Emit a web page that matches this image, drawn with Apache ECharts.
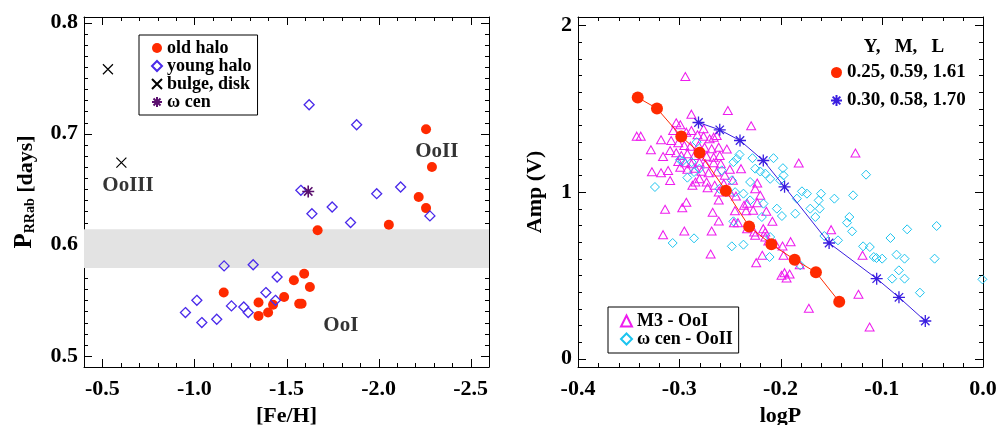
<!DOCTYPE html>
<html><head><meta charset="utf-8">
<script src="https://cdn.jsdelivr.net/npm/echarts@6/dist/echarts.min.js"></script>
<style>html,body{margin:0;padding:0;background:#fff}#c{width:997px;height:425px}</style>
</head><body><div id="c"></div>
<script>
// ---------- Left panel data ----------
const oldHaloFeH = [-2.258,-2.290,-2.218,-2.258,-2.056,-1.669,-1.159,-1.348,-1.348,-1.400,-1.427,-1.487,-1.540,-1.596,-1.627,-1.569,-1.582];
const oldHaloP   = [0.704,0.670,0.643,0.633,0.618,0.613,0.557,0.548,0.536,0.539,0.546,0.553,0.568,0.574,0.562,0.547,0.547];
const youngHaloFeH = [-1.623,-1.881,-1.578,-2.120,-1.990,-1.748,-1.638,-1.848,-2.279,-1.161,-1.319,-1.449,-1.388,-1.440,-1.013,-0.951,-1.040,-1.121,-1.201,-1.268,-1.292];
const youngHaloP   = [0.726,0.708,0.649,0.652,0.646,0.634,0.628,0.620,0.626,0.581,0.582,0.571,0.557,0.550,0.550,0.539,0.530,0.533,0.545,0.544,0.539];
const bulgeFeH = [-0.530,-0.603];
const bulgeP   = [0.758,0.674];
const omegaFeH = [-1.618];
const omegaP   = [0.648];
const bandLow = 0.579, bandHigh = 0.614;
const annoText = ['OoIII','OoII','OoI'];
const annoFeH  = [-0.639,-2.316,-1.795];
const annoP    = [0.653,0.684,0.527];
const feMajorTicks = [-0.5, -1.0, -1.5, -2.0, -2.5];
const pMajorTicks  = [0.5, 0.6, 0.7, 0.8];
const feTicksStep = 0.5, pTicksStep = 0.1;

// ---------- Right panel data ----------
const modelA_logP = [-0.341,-0.322,-0.298,-0.280,-0.254,-0.231,-0.209,-0.186,-0.165,-0.142];
const modelA_amp  = [1.567,1.501,1.333,1.235,1.008,0.793,0.686,0.594,0.518,0.342];
const modelB_logP = [-0.281,-0.260,-0.240,-0.217,-0.196,-0.152,-0.105,-0.083,-0.057];
const modelB_amp  = [1.417,1.373,1.309,1.189,1.031,0.694,0.480,0.368,0.226];
const m3LogP = [-0.294,-0.252,-0.288,-0.229,-0.342,-0.338,-0.318,-0.328,-0.316,-0.327,-0.318,-0.311,-0.309,-0.314,-0.316,-0.295,-0.297,-0.293,-0.287,-0.268,
  -0.269,-0.261,-0.267,-0.261,-0.253,-0.239,-0.182,-0.126,-0.119,-0.150,-0.123,-0.172,-0.112,-0.190,-0.198,-0.196,-0.191,-0.199,-0.194,-0.224,
  -0.218,-0.208,-0.214,-0.223,-0.225,-0.223,-0.226,-0.217,-0.215,-0.212,-0.234,-0.233,-0.245,-0.246,-0.242,-0.244,-0.181,
  -0.284,-0.272,-0.266,-0.276,-0.220,-0.236,-0.227,-0.233,-0.225,-0.215,-0.205,-0.197,
  -0.303,-0.299,-0.306,-0.293,-0.288,-0.282,-0.276,-0.270,-0.263,-0.308,-0.301,-0.295,-0.289,-0.281,-0.275,-0.268,-0.261,
  -0.309,-0.303,-0.298,-0.292,-0.285,-0.280,-0.273,-0.266,-0.260,-0.301,-0.294,-0.288,-0.280,-0.274,-0.266,-0.259,
  -0.299,-0.292,-0.284,-0.278,-0.271,-0.263,-0.255,-0.250,-0.247,-0.280,-0.273,-0.265,-0.256,-0.261,-0.250];
const m3Amp = [1.693,1.489,1.467,1.397,1.335,1.335,1.313,1.253,1.213,1.121,1.115,1.129,1.069,0.896,0.744,0.766,0.906,0.938,1.040,0.766,
  0.628,0.826,0.878,0.952,1.258,1.140,1.174,1.234,0.620,0.774,0.386,0.302,0.190,0.702,0.676,0.516,0.508,0.500,0.484,0.576,
  0.620,0.824,0.884,0.936,1.020,1.054,0.760,0.780,0.760,0.706,0.888,0.932,0.888,0.816,0.816,0.976,0.564,
  1.060,1.026,1.329,1.379,0.980,0.920,0.890,0.780,0.740,0.730,0.690,0.620,
  1.415,1.403,1.369,1.359,1.369,1.343,1.335,1.319,1.339,1.309,1.295,1.279,1.275,1.279,1.269,1.259,1.269,
  1.249,1.235,1.219,1.229,1.219,1.235,1.215,1.209,1.219,1.183,1.175,1.169,1.179,1.169,1.175,1.169,
  1.149,1.136,1.143,1.124,1.116,1.120,1.100,1.136,1.070,1.080,1.060,1.040,1.050,1.000,1.000];
const omegaCenLogP = [-0.324,-0.3065,-0.2854,-0.2993,-0.2966,-0.292,-0.2877,-0.2828,-0.2854,-0.2801,-0.258,-0.2481,-0.2465,-0.2432,-0.2405,-0.2603,-0.2448,-0.2366,-0.230,-0.2277,
  -0.225,-0.220,-0.215,-0.2069,-0.2102,-0.1976,-0.197,-0.2003,-0.230,-0.2168,-0.2036,-0.1986,-0.1854,-0.1838,-0.1788,-0.1739,-0.1706,-0.1656,-0.1613,-0.160,
  -0.1623,-0.1468,-0.1283,-0.1155,-0.132,-0.1343,-0.1293,-0.1567,-0.1432,-0.1184,-0.1118,-0.1079,-0.1052,-0.0996,-0.0914,-0.0749,-0.0458,-0.0854,-0.0775,-0.0478,
  -0.0831,-0.0897,-0.0775,-0.0623,-0.0006,-0.2481,-0.2366,-0.2108,-0.2102,-0.1805,-0.2465,-0.2184];
const omegaCenAmp = [1.030,0.694,0.722,1.193,1.185,1.086,1.179,1.299,1.120,1.140,1.130,1.070,1.179,1.199,1.225,1.019,0.999,0.990,0.950,1.203,
  1.140,1.123,1.110,1.203,1.079,1.143,1.100,1.070,1.060,0.930,0.900,0.856,0.870,0.960,1.004,0.990,0.900,0.850,0.900,0.990,
  0.950,0.960,0.980,1.104,0.850,0.816,0.764,0.736,0.710,0.674,0.670,0.610,0.604,0.600,0.724,0.776,0.796,0.624,0.600,0.600,
  0.530,0.480,0.480,0.396,0.476,0.674,0.684,0.610,0.730,0.560,0.824,0.850];
const logPMajorTicks = [-0.4, -0.3, -0.2, -0.1, 0.0];
const ampMajorTicks  = [0, 1, 2];
const logPStep = 0.1, ampStep = 1;

// ---------- axis ranges ----------
const FE_MIN = -2.6, FE_MAX = -0.4, P_MIN = 0.49, P_MAX = 0.805;
const LOGP_MIN = -0.4, LOGP_MAX = 0, AMP_MIN = -0.05, AMP_MAX = 2.05;

// ---------- styling ----------
const FONT = 'Liberation Serif';
const RED = '#ff2a00', BLUE = '#3a1ee0', VIOLET = '#4a2aea', CYAN = '#1cc4ef', MAGENTA = '#ee1cee', PURPLE = '#5a0f6e';
const XPATH = 'path://M0,0L10,10M10,0L0,10';
const STARPATH = 'path://M5,0L5,10M0,5L10,5M1.5,1.5L8.5,8.5M8.5,1.5L1.5,8.5';
const MAJOR_LEN = 8, MINOR_LEN = 4;
const zip = (a, b) => a.map((v, i) => [v, b[i]]);
const fmt = (step, dec) => v => { const k = v / step; return Math.abs(k - Math.round(k)) < 1e-6 ? (Math.round(k) * step).toFixed(dec) : ''; };
const txt = (size) => ({ fontFamily: FONT, fontWeight: 'bold', fontSize: size, color: '#000' });

function minors(lo, hi, step, majors) {
  const out = [];
  for (let k = Math.ceil(lo / step - 1e-9); k * step <= hi + 1e-9; k++) {
    const v = +(k * step).toFixed(4);
    if (v > lo + 1e-9 && v < hi - 1e-9 && !majors.some(m => Math.abs(m - v) < 1e-9)) out.push(v);
  }
  return out;
}

function ax(extra) {
  return Object.assign({
    type: 'value',
    axisLine: { show: true, onZero: false, lineStyle: { color: '#000', width: 1 } },
    axisTick: { show: false },
    minorTick: { show: false },
    splitLine: { show: false },
    axisLabel: { show: false }
  }, extra);
}
const xLeft  = () => ({ gridIndex: 0, min: FE_MIN, max: FE_MAX, inverse: true, minInterval: feTicksStep, maxInterval: feTicksStep, splitNumber: 4 });
const yLeft  = () => ({ gridIndex: 0, min: P_MIN, max: P_MAX, minInterval: pTicksStep, maxInterval: pTicksStep, splitNumber: 3 });
const xRight = () => ({ gridIndex: 1, min: LOGP_MIN, max: LOGP_MAX, interval: logPStep });
const yRight = () => ({ gridIndex: 1, min: AMP_MIN, max: AMP_MAX, minInterval: ampStep, maxInterval: ampStep, splitNumber: 2 });

const xAxes = [
  ax(Object.assign(xLeft(), { position: 'bottom',
    axisLabel: Object.assign({ show: true, margin: 11, formatter: fmt(feTicksStep, 1) }, txt(22)),
    name: '[Fe/H]', nameLocation: 'middle', nameGap: 35, nameTextStyle: txt(22) })),
  ax(Object.assign(xLeft(), { position: 'top' })),
  ax(Object.assign(xRight(), { position: 'bottom',
    axisLabel: Object.assign({ show: true, margin: 11, formatter: fmt(logPStep, 1) }, txt(22)),
    name: 'logP', nameLocation: 'middle', nameGap: 35, nameTextStyle: txt(22) })),
  ax(Object.assign(xRight(), { position: 'top' }))
];
const yAxes = [
  ax(Object.assign(yLeft(), { position: 'left',
    axisLabel: Object.assign({ show: true, margin: 6, formatter: fmt(pTicksStep, 1) }, txt(22)),
    name: '{a|P}{b|RRab} {c|[days]}', nameLocation: 'middle', nameGap: 47,
    nameTextStyle: Object.assign(txt(22), { rich: {
      a: Object.assign(txt(25), { lineHeight: 28, verticalAlign: 'bottom' }),
      b: Object.assign(txt(14), { lineHeight: 14, verticalAlign: 'bottom' }),
      c: Object.assign(txt(22), { lineHeight: 28, verticalAlign: 'bottom' }) } }) })),
  ax(Object.assign(yLeft(), { position: 'right' })),
  ax(Object.assign(yRight(), { position: 'left',
    axisLabel: Object.assign({ show: true, margin: 6, formatter: fmt(ampStep, 0) }, txt(22)),
    name: 'Amp (V)', nameLocation: 'middle', nameGap: 32, nameTextStyle: txt(22) })),
  ax(Object.assign(yRight(), { position: 'right' }))
];

const legendText = (s) => Object.assign(txt(s), { lineHeight: 18 });
const hollow = (c, w) => ({ color: 'rgba(0,0,0,0)', borderColor: c, borderWidth: w, opacity: 1 });
const headerText = { type: 'text', x: 904, y: 47, z: 10,
  style: { text: 'Y,   M,   L', fill: '#000', font: 'bold 19px "Liberation Serif"', align: 'center', verticalAlign: 'middle' } };

const option = {
  animation: false,
  backgroundColor: '#fff',
  grid: [
    { left: 84, top: 17, width: 405, height: 350, containLabel: false, outerBoundsMode: 'none' },
    { left: 578, top: 17, width: 405, height: 350, containLabel: false, outerBoundsMode: 'none' }
  ],
  xAxis: xAxes,
  yAxis: yAxes,
  legend: [
    { left: 139, top: 35, orient: 'vertical', selectedMode: false, itemWidth: 10, itemHeight: 10, itemGap: 0,
      padding: [4, 6, 4, 12], borderColor: '#000', borderWidth: 1, backgroundColor: '#fff', textStyle: legendText(18),
      data: [{ name: 'old halo', icon: 'circle' }, { name: 'young halo', icon: 'diamond' },
             { name: 'bulge, disk', icon: XPATH }, { name: 'ω cen', icon: STARPATH }] },
    { left: 830, top: 63, orient: 'vertical', selectedMode: false, itemWidth: 11, itemHeight: 11, itemGap: 9,
      padding: 0, textStyle: legendText(19),
      data: [{ name: '0.25, 0.59, 1.61', icon: 'circle' }, { name: '0.30, 0.58, 1.70', icon: STARPATH }] },
    { left: 608, top: 307, orient: 'vertical', selectedMode: false, itemWidth: 11, itemHeight: 11, itemGap: 0,
      padding: [5, 6, 5, 12], borderColor: '#000', borderWidth: 1, backgroundColor: '#fff', textStyle: legendText(18),
      data: [{ name: 'M3 - OoI', icon: 'triangle' }, { name: 'ω cen - OoII', icon: 'diamond' }] }
  ],
  graphic: [headerText],
  series: [
    { name: 'old halo', type: 'scatter', xAxisIndex: 0, yAxisIndex: 0, symbol: 'circle', symbolSize: 10,
      itemStyle: { color: RED, opacity: 1 }, data: zip(oldHaloFeH, oldHaloP),
      markArea: { silent: true, itemStyle: { color: '#e3e3e3' },
        data: [[{ xAxis: FE_MAX, yAxis: bandLow }, { xAxis: FE_MIN, yAxis: bandHigh }]] } },
    { name: 'young halo', type: 'scatter', xAxisIndex: 0, yAxisIndex: 0, symbol: 'diamond', symbolSize: 10,
      itemStyle: hollow(VIOLET, 1.3), data: zip(youngHaloFeH, youngHaloP) },
    { name: 'bulge, disk', type: 'scatter', xAxisIndex: 0, yAxisIndex: 0, symbol: XPATH, symbolSize: 10,
      itemStyle: hollow('#000', 1.2), data: zip(bulgeFeH, bulgeP) },
    { name: 'ω cen', type: 'scatter', xAxisIndex: 0, yAxisIndex: 0, symbol: STARPATH, symbolSize: 12,
      itemStyle: hollow(PURPLE, 1.6), data: zip(omegaFeH, omegaP) },
    { name: 'annotations', type: 'scatter', xAxisIndex: 0, yAxisIndex: 0, silent: true, symbolSize: 1,
      itemStyle: { color: 'rgba(0,0,0,0)' },
      label: Object.assign({ show: true, position: 'inside', formatter: p => p.value[2] }, txt(21)),
      data: annoFeH.map((v, i) => [v, annoP[i], annoText[i]]) },

    { name: 'M3 - OoI', type: 'scatter', xAxisIndex: 2, yAxisIndex: 2, symbol: 'triangle', symbolSize: [9, 8],
      itemStyle: hollow(MAGENTA, 1), data: zip(m3LogP, m3Amp) },
    { name: 'ω cen - OoII', type: 'scatter', xAxisIndex: 2, yAxisIndex: 2, symbol: 'diamond', symbolSize: 9,
      itemStyle: hollow(CYAN, 1), data: zip(omegaCenLogP, omegaCenAmp) },
    { name: '0.25, 0.59, 1.61', type: 'line', xAxisIndex: 2, yAxisIndex: 2, z: 3, symbol: 'circle', symbolSize: 12,
      itemStyle: { color: RED, borderWidth: 0, opacity: 1 }, lineStyle: { color: RED, width: 1 }, data: zip(modelA_logP, modelA_amp) },
    { name: '0.30, 0.58, 1.70', type: 'line', xAxisIndex: 2, yAxisIndex: 2, z: 3, symbol: STARPATH, symbolSize: 12,
      itemStyle: hollow(BLUE, 1.3), lineStyle: { color: BLUE, width: 1 },
      data: zip(modelB_logP, modelB_amp) }
  ]
};
const chart = echarts.init(document.getElementById('c'));
chart.setOption(option);

// ---------- tick marks on all four sides, placed through the axes' own scales ----------
function buildTicks(xIdx, yIdx, xr, yr, xMaj, xMin, yMaj, yMin, skipY) {
  const els = [];
  const px = v => chart.convertToPixel({ xAxisIndex: xIdx }, v);
  const py = v => chart.convertToPixel({ yAxisIndex: yIdx }, v);
  const xa = px(xr[0]), xb = px(xr[1]);
  const left = Math.min(xa, xb), right = Math.max(xa, xb);
  const ya = py(yr[0]), yb = py(yr[1]);
  const top = Math.min(ya, yb), bottom = Math.max(ya, yb);
  const line = (x1, y1, x2, y2) => ({ type: 'line', silent: true, z: 50,
    shape: { x1, y1, x2, y2 }, style: { stroke: '#000', lineWidth: 1 } });
  const addX = (vals, len) => vals.forEach(v => {
    const x = Math.round(px(v)) + 0.5;
    els.push(line(x, bottom, x, bottom - len), line(x, top, x, top + len));
  });
  const addY = (vals, len) => vals.forEach(v => {
    if (skipY && v >= skipY[0] - 1e-9 && v <= skipY[1] + 1e-9) return;
    const y = Math.round(py(v)) + 0.5;
    els.push(line(left, y, left + len, y), line(right, y, right - len, y));
  });
  addX(xMaj, MAJOR_LEN); addX(xMin, MINOR_LEN);
  addY(yMaj, MAJOR_LEN); addY(yMin, MINOR_LEN);
  return els;
}
const tickEls = [].concat(
  buildTicks(0, 0, [FE_MIN, FE_MAX], [P_MIN, P_MAX],
    feMajorTicks, minors(FE_MIN, FE_MAX, 0.1, feMajorTicks),
    pMajorTicks, minors(P_MIN, P_MAX, 0.01, pMajorTicks), [bandLow, bandHigh]),
  buildTicks(2, 2, [LOGP_MIN, LOGP_MAX], [AMP_MIN, AMP_MAX],
    logPMajorTicks, minors(LOGP_MIN, LOGP_MAX, 0.02, logPMajorTicks),
    ampMajorTicks, minors(AMP_MIN, AMP_MAX, 0.1, ampMajorTicks), null)
);
chart.setOption({ graphic: [headerText].concat(tickEls) });
</script></body></html>
